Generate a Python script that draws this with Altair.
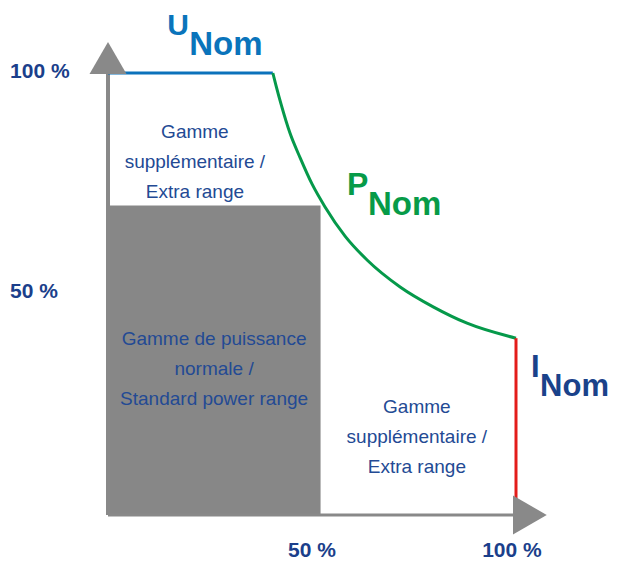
import altair as alt
import pandas as pd

# ---- data (percent of nominal) ----
tick_values = [10, 20, 30, 40, 50, 60, 70, 80, 90]

std_x = [0, 52.1]          # standard power range rectangle
std_y = [0, 70]

unom_x = [0, 40.4]         # constant voltage limit
unom_y = [100, 100]

pnom_x = [40.4, 41.2, 42.4, 44.6, 47.1, 50.0, 53.2, 58.1, 63.5, 71.6, 79.7, 88.0, 100]
pnom_y = [100, 97.1, 93.0, 86.4, 80.8, 74.9, 69.7, 63.1, 57.7, 51.6, 47.1, 43.4, 40]

inom_x = [100, 100]        # current limit
inom_y = [0, 40]

axis_end = [103.4]         # arrow heads

block1 = ["Gamme", "supplémentaire /", "Extra range"]
block2 = ["Gamme de puissance", "normale /", "Standard power range"]
block3 = ["Gamme", "supplémentaire /", "Extra range"]

y_labels = ["100 %", "50 %"]
x_labels = ["50 %", "100 %"]

# annotation anchors (data coordinates)
block1_x, block1_y = 21.3, [85.3, 78.5, 71.7]
block2_x, block2_y = 26.0, [38.5, 31.7, 24.9]
block3_x, block3_y = 75.7, [23.1, 16.3, 9.5]
ylab_x, ylab_y = -24.0, [98.9, 49.1]
xlab_x, xlab_y = [50.0, 99.0], -9.5

GRAY = "#878787"
AXIS = "#898989"
TXT = "#234a94"
DARK = "#1b3f8b"

xs = alt.Scale(domain=[0, 100], nice=False, zero=False)
ys = alt.Scale(domain=[0, 100], nice=False, zero=False)


def X(field="x", axis=None):
    return alt.X(f"{field}:Q", scale=xs, axis=axis)


def Y(field="y", axis=None):
    return alt.Y(f"{field}:Q", scale=ys, axis=axis)


# axes ticks via the library's axes
tick_df = pd.DataFrame({"x": tick_values, "y": tick_values})
axes = alt.Chart(tick_df).mark_point(opacity=0).encode(
    x=X(axis=alt.Axis(values=tick_values, labels=False, domain=False, grid=False,
                      tickSize=16, tickColor="#b8b8b8", tickWidth=1.5, title=None)),
    y=Y(axis=alt.Axis(values=tick_values, labels=False, domain=False, grid=False,
                      tickSize=14, tickColor="#b8b8b8", tickWidth=1.5, title=None)),
)

rect = alt.Chart(pd.DataFrame({"x": [std_x[0]], "x2": [std_x[1]],
                               "y": [std_y[0]], "y2": [std_y[1]]})).mark_rect(
    color=GRAY).encode(x=X(), x2="x2:Q", y=Y(), y2="y2:Q")

yaxis_line = alt.Chart(pd.DataFrame({"x": [0], "y": [0], "y2": [100]})).mark_rule(
    color=AXIS, strokeWidth=4).encode(x=X(), y=Y(), y2="y2:Q")
xaxis_line = alt.Chart(pd.DataFrame({"y": [0], "x": [0], "x2": [100]})).mark_rule(
    color=AXIS, strokeWidth=3).encode(y=Y(), x=X(), x2="x2:Q")

u_line = alt.Chart(pd.DataFrame({"x": unom_x, "y": unom_y})).mark_line(
    color="#0b72bb", strokeWidth=3).encode(x=X(), y=Y())
p_line = alt.Chart(pd.DataFrame({"x": pnom_x, "y": pnom_y})).mark_line(
    color="#05994a", strokeWidth=3, interpolate="monotone").encode(x=X(), y=Y())
i_line = alt.Chart(pd.DataFrame({"x": inom_x, "y": inom_y})).mark_line(
    color="#e31d1a", strokeWidth=3).encode(x=X(), y=Y())

arrow_up = alt.Chart(pd.DataFrame({"x": [0], "y": axis_end})).mark_point(
    shape="triangle-up", filled=True, size=1369, color=AXIS, opacity=1,
    strokeWidth=0).encode(x=X(), y=Y())
arrow_right = alt.Chart(pd.DataFrame({"x": axis_end, "y": [0]})).mark_point(
    shape="triangle-right", filled=True, size=1521, color=AXIS, opacity=1,
    strokeWidth=0).encode(x=X(), y=Y())

FONT = "Liberation Sans"


def block(lines, x, ys_):
    df = pd.DataFrame({"t": lines, "x": [x] * len(lines), "y": ys_})
    return alt.Chart(df).mark_text(font=FONT, fontSize=19, color=TXT,
                                   align="center", baseline="alphabetic").encode(
        x=X(), y=Y(), text="t:N")


b1 = block(block1, block1_x, block1_y)
b2 = block(block2, block2_x, block2_y)
b3 = block(block3, block3_x, block3_y)

ylab = alt.Chart(pd.DataFrame({"t": y_labels, "x": [ylab_x] * 2, "y": ylab_y})).mark_text(
    font=FONT, fontSize=21, fontWeight="bold", color=DARK, align="left",
    baseline="alphabetic").encode(x=X(), y=Y(), text="t:N")
xlab = alt.Chart(pd.DataFrame({"t": x_labels, "x": xlab_x, "y": [xlab_y] * 2})).mark_text(
    font=FONT, fontSize=21, fontWeight="bold", color=DARK, align="center",
    baseline="alphabetic").encode(x=X(), y=Y(), text="t:N")


def sublabel(main, mx, my, sx, sy, color, main_size, sub_size):
    parts = []
    for t, x, y, s in [(main, mx, my, main_size), ("Nom", sx, sy, sub_size)]:
        df = pd.DataFrame({"t": [t], "x": [x], "y": [y]})
        parts.append(alt.Chart(df).mark_text(
            font=FONT, fontSize=s, fontWeight="bold", color=color, align="left",
            baseline="alphabetic").encode(x=X(), y=Y(), text="t:N"))
    return alt.layer(*parts)


u_lab = sublabel("U", 14.5, 108.5, 19.9, 104.1, "#0a74bb", 30, 33)
p_lab = sublabel("P", 58.6, 72.4, 63.7, 67.9, "#079b48", 32, 33)
i_lab = sublabel("I", 103.7, 31.2, 105.9, 26.9, "#1a428a", 31, 31)

chart = alt.layer(
    axes, rect, yaxis_line, xaxis_line, u_line, p_line, i_line,
    arrow_up, arrow_right, b1, b2, b3, ylab, xlab, u_lab, p_lab, i_lab,
).properties(
    width=408, height=442,
    autosize=alt.AutoSizeParams(type="none"),
    padding={"left": 100, "top": 65, "right": 97, "bottom": 49},
).configure_view(stroke=None)

chart.save("out.html", embed_options={"renderer": "svg", "actions": False})
